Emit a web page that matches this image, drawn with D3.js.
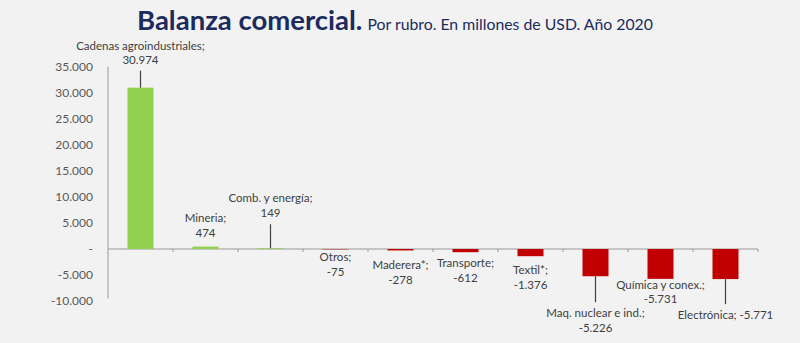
<!DOCTYPE html>
<html><head><meta charset="utf-8">
<script src="https://cdn.jsdelivr.net/npm/d3@7"></script>
<style>
html,body{margin:0;padding:0;background:#f2f2f2;}
svg{display:block;}
</style></head>
<body>
<svg id="chart" width="800" height="343"></svg>
<script>
// ---- data ----
const categories = ["Cadenas agroindustriales","Mineria","Comb. y energía","Otros","Maderera*","Transporte","Textil*","Maq. nuclear e ind.","Química y conex.","Electrónica"];
const values = [30974, 474, 149, -75, -278, -612, -1376, -5226, -5731, -5771];
const yTicks = [35000, 30000, 25000, 20000, 15000, 10000, 5000, 0, -5000, -10000];
const titleMain = "Balanza comercial.";
const titleSub = "Por rubro. En millones de USD. Año 2020";

// label placement (layout only): first line offset from bar end, leader line extent, single line?
const labelLayout = [
  {dy:-42, lead:[-17,0], one:false},
  {dy:-28.5, lead:null, one:false},
  {dy:-50, lead:[-24,0], one:false},
  {dy:7.6, lead:null, one:false},
  {dy:14.6, lead:null, one:false},
  {dy:11, lead:null, one:false},
  {dy:14, lead:null, one:false},
  {dy:37, lead:[0,26], one:false},
  {dy:6, lead:null, one:false},
  {dy:36, lead:[0,25], one:true}
];

const loc = d3.formatLocale({decimal:",", thousands:".", grouping:[3], currency:["$",""], minus:"-"});
const fmt = loc.format(",d");
const tickFmt = v => v === 0 ? "-" : fmt(v);

const svg = d3.select("#chart");
svg.append("rect").attr("width",800).attr("height",343).attr("fill","#f2f2f2");

const x = d3.scaleBand().domain(categories).range([108,758]).paddingInner(0.6).paddingOuter(0.3);
const y = d3.scaleLinear().domain([-10000,35000]).range([301.1,66.7]);

// title
const t = svg.append("text").attr("x",137).attr("y",30).attr("font-family","Lato, 'Open Sans', sans-serif");
t.append("tspan").text(titleMain).attr("font-size",27.5).attr("font-weight",700).attr("fill","#1c2b5e");
t.append("tspan").text(" " + titleSub).attr("font-size",15.8).attr("font-weight",400).attr("fill","#1c2b5e").attr("dx",1);

// y axis
const yAxis = svg.append("g").attr("transform","translate(108,0)")
  .call(d3.axisLeft(y).tickValues(yTicks).tickSize(0).tickPadding(15).tickFormat(tickFmt));
yAxis.select(".domain").attr("stroke","#9a9a9a").attr("d", `M0,${y(35000)}V${y(-9500)}`);
yAxis.selectAll("text").attr("font-family","Lato, sans-serif").attr("font-size",12).attr("fill","#595959");

// category axis
const x0 = y(0);
svg.append("line").attr("x1",108).attr("x2",758).attr("y1",x0).attr("y2",x0).attr("stroke","#9a9a9a");
svg.append("g").selectAll("line").data(d3.range(1, categories.length+1)).join("line")
  .attr("x1",i=>108+i*x.step()).attr("x2",i=>108+i*x.step())
  .attr("y1",x0).attr("y2",x0+3).attr("stroke","#9a9a9a");

// bars
svg.append("g").selectAll("rect").data(categories).join("rect")
  .attr("x",d=>x(d)).attr("width",x.bandwidth())
  .attr("y",(d,i)=>y(Math.max(0,values[i])))
  .attr("height",(d,i)=>Math.abs(y(values[i])-y(0)))
  .attr("fill",(d,i)=>values[i]>=0 ? "#92d050" : "#c00000");

// leaders and labels
const lg = svg.append("g").attr("font-family","Lato, sans-serif").attr("font-size",11.5).attr("fill","#404040").attr("text-anchor","middle");
categories.forEach((c,i)=>{
  const cx = x(c)+x.bandwidth()/2;
  const yEnd = y(values[i]);
  const L = labelLayout[i];
  if (L.lead) {
    lg.append("line").attr("x1",cx).attr("x2",cx).attr("y1",yEnd+L.lead[0]).attr("y2",yEnd+L.lead[1])
      .attr("stroke","#404040").attr("stroke-width",1.2);
  }
  if (L.one) {
    lg.append("text").attr("x",cx).attr("y",yEnd+L.dy).attr("dy","0.35em").text(c+"; "+fmt(values[i]));
  } else {
    lg.append("text").attr("x",cx).attr("y",yEnd+L.dy).attr("dy","0.35em").text(c+";");
    lg.append("text").attr("x",cx).attr("y",yEnd+L.dy+14.5).attr("dy","0.35em").text(fmt(values[i]));
  }
});
</script>
</body></html>
